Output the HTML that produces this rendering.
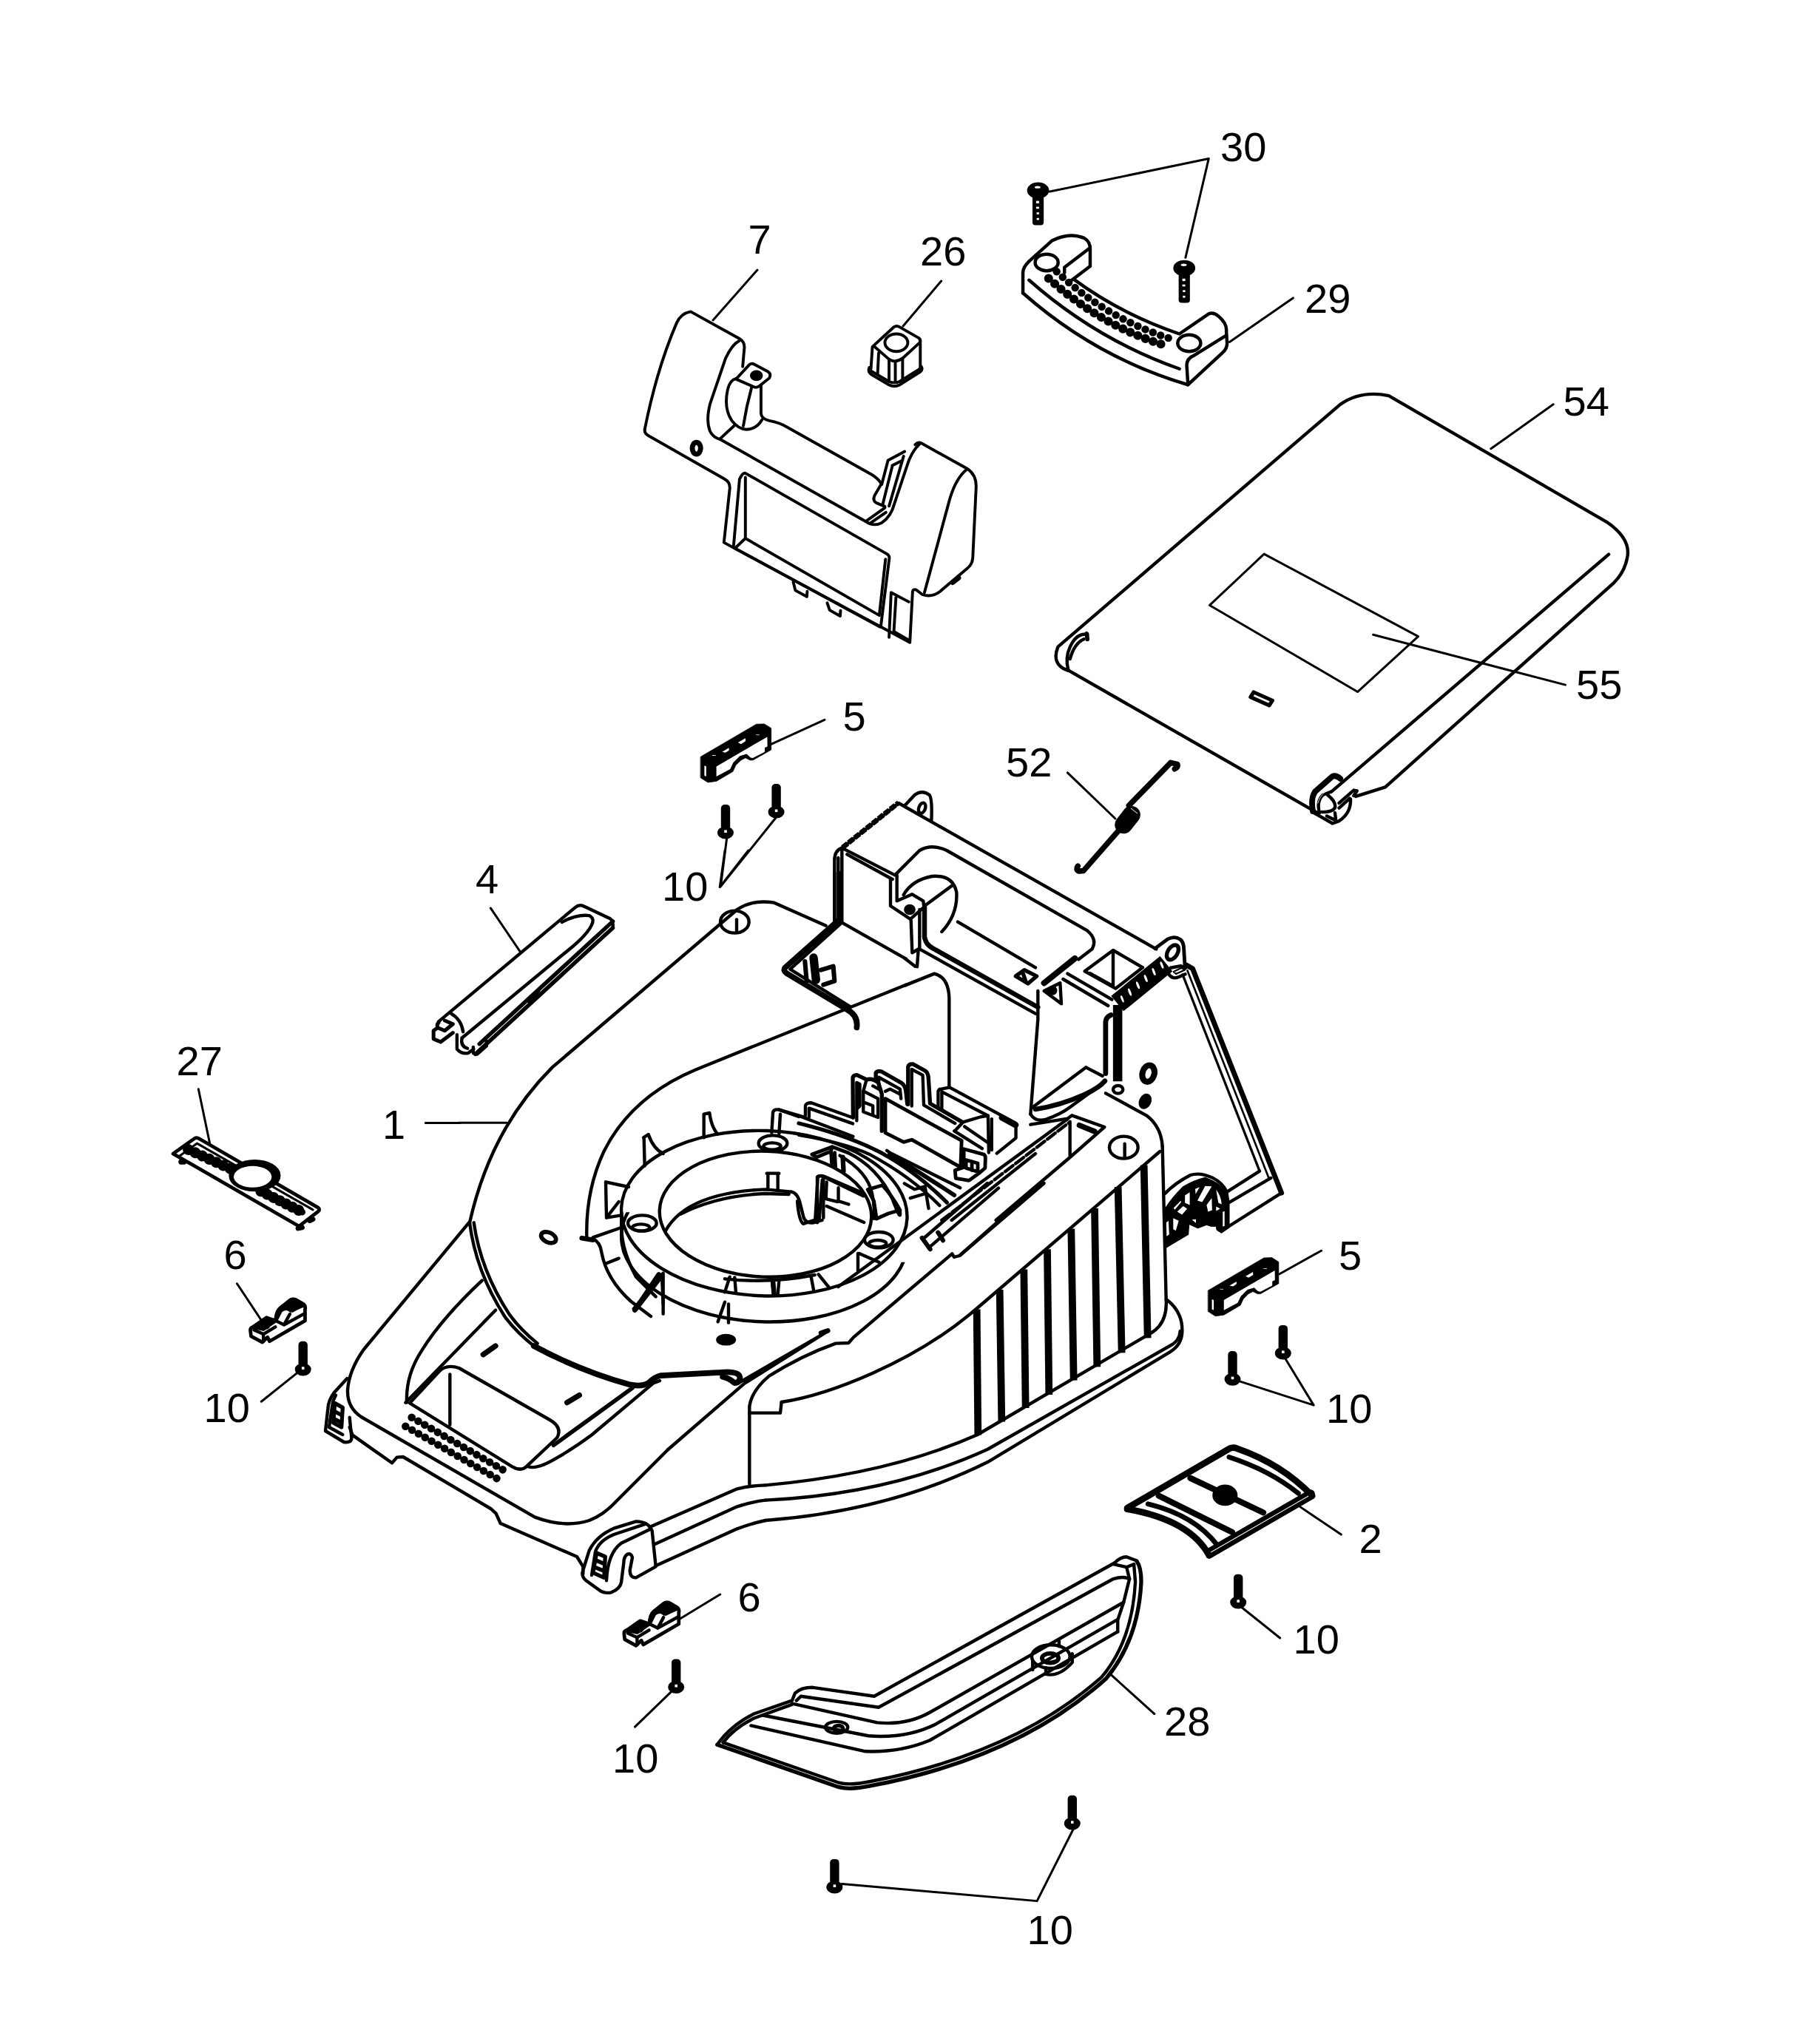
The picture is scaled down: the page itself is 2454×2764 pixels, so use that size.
<!DOCTYPE html>
<html><head><meta charset="utf-8"><style>
html,body{margin:0;padding:0;background:#fff}
svg{display:block}
text{font-family:"Liberation Sans",sans-serif;font-size:56px;fill:#000;stroke:none}
.k{fill:#000}
.w{fill:#fff}
.t{stroke-width:3px;vector-effect:non-scaling-stroke}
</style></head><body>
<svg width="2454" height="2764" viewBox="0 0 2454 2764">
<rect width="2454" height="2764" fill="#fff"/>
<g fill="none" stroke="#000" stroke-width="4.4" stroke-linecap="round" stroke-linejoin="round">
<!-- p01_lip.svg -->
<g transform="translate(700,1820) scale(0.16694)" stroke-width="26.35">
<path d="M130,0 Q500,200 900,312 Q1000,335 1060,300 Q1110,250 1160,240 L1640,215 Q1790,200 1800,255 Q1800,300 1755,300 Q1720,265 1660,250" stroke-width="46.36"/>
<path d="M290,805 L930,340" stroke-width="32.94"/>
<path d="M80,975 Q150,1010 330,900 Q480,810 600,720 L1100,300 L1150,282"/>
</g>
<!-- p01_t1.svg -->
<defs><clipPath id="cT1"><rect x="0" y="0" width="1815" height="1800"/></clipPath>
<clipPath id="cHole"><ellipse cx="1245" cy="1385" rx="430" ry="255" transform="rotate(2 1245 1385)"/></clipPath></defs>
<g transform="translate(620,1180) scale(0.33333)" stroke-width="13.18">
<!-- hood left outer edge -->
<path d="M1130,150 Q1190,108 1280,122 L1490,215"/>
<path d="M1130,150 L380,790 Q130,1040 45,1420"/>
<path class="t" stroke-width="7.32" d="M0,1015 L195,1015"/>
<!-- hood inner panel line -->
<path d="M1815,455 L960,800 Q700,910 590,1130 Q515,1290 520,1480"/>
<path d="M500,1483 L545,1490" stroke-width="19.52"/>
<!-- ring -->
<ellipse cx="1240" cy="1382" rx="580" ry="335" transform="rotate(2 1240 1378)"/>
<ellipse cx="1245" cy="1385" rx="430" ry="255" transform="rotate(2 1245 1385)"/>
<g clip-path="url(#cHole)">
<path d="M820,1500 Q880,1300 1245,1285 L1350,1295"/>
<path d="M900,1385 Q1050,1310 1245,1302 L1340,1305"/>
</g>
<!-- bosses -->
<ellipse cx="1275" cy="1098" rx="58" ry="32"/><ellipse cx="1272" cy="1110" rx="35" ry="14"/>
<ellipse cx="745" cy="1422" rx="58" ry="32"/><ellipse cx="740" cy="1440" rx="35" ry="14"/>
<ellipse cx="1705" cy="1490" rx="58" ry="32"/><ellipse cx="1700" cy="1505" rx="35" ry="14"/>
<!-- small holes -->
<ellipse cx="365" cy="1480" rx="32" ry="20" transform="rotate(25 365 1480)" stroke-width="17.08"/>
<ellipse cx="1120" cy="200" rx="58" ry="45"/><path d="M1128,190 L1128,242"/>
<!-- ribs top -->
<path d="M750,1075 L770,1062 Q790,1120 830,1140 M752,1075 L755,1190"/>
<path d="M995,980 L1018,975 Q1025,1030 1050,1060 M995,980 L995,1075"/>
<path d="M1275,975 L1270,1055 M1305,980 L1300,1060 M1275,972 Q1280,958 1300,962 L1380,990"/>
<!-- left ribs -->
<path d="M597,1255 L690,1275 M597,1255 L600,1400 L650,1335 M600,1400 L660,1390 M545,1480 L660,1440"/>
<path d="M545,1485 Q575,1500 580,1540 Q600,1650 700,1740 L780,1800"/>
<path d="M662,1400 Q650,1510 720,1640 L800,1720 M600,1585 L650,1565"/>
<path d="M830,1625 L830,1790 M830,1625 L710,1770" />
<path d="M820,1640 L715,1775" stroke-width="19.52"/>
<path d="M1100,1640 L1080,1702 M1120,1642 L1125,1705 M1272,1655 L1278,1712 M1300,1655 L1295,1710 M1430,1640 L1440,1692 M1460,1630 L1500,1680" />
<path d="M1275,1655 L1280,1712" stroke-width="19.52"/>
<!-- notch + post -->
<path d="M1255,1222 L1255,1285 M1295,1222 L1295,1285 M1250,1220 L1300,1220"/>
<path d="M1350,1295 Q1375,1300 1385,1340 L1400,1400 Q1410,1425 1440,1420 L1475,1410"/>
<path d="M1455,1235 L1455,1420 M1480,1240 L1480,1400 M1455,1235 Q1470,1225 1490,1235 L1640,1300"/>
<!-- housing lower-left bracket -->
<path d="M1545,190 L1325,385 Q1315,397 1330,408 L1575,555 Q1622,580 1615,628" stroke-width="23.18"/>
<path d="M1552,205 L1345,392 L1590,545"/>
<path d="M1525,0 L1525,195 M1550,0 L1550,200 L1815,350"/>
<path d="M1405,360 L1412,440 M1470,395 L1520,380 L1525,440 L1480,455" stroke-width="18.3"/>
<path d="M1440,345 L1450,435" stroke-width="34.16"/>
<!-- upper right clutter -->
</g>
<!-- p01_t2b.svg -->
<defs><clipPath id="cLow"><path d="M-100,238 L1200,238 L1200,440 L1815,440 L1815,1200 L-100,1200 Z"/></clipPath></defs>
<g transform="translate(800,1560) scale(0.33333)" stroke-width="13.18">
<!-- ring wall lower ellipse -->
<g clip-path="url(#cLow)"><ellipse cx="700" cy="350" rx="580" ry="332" transform="rotate(2 700 350)"/></g>
<path d="M121,240 L121,350"/>
<!-- hole rim second arc -->
<path d="M540,508 Q720,528 905,492"/>
<path d="M285,495 L290,612 M540,602 L512,682 M555,610 L555,686 M1080,405 L1080,475 M1085,405 L1165,440"/>
<path d="M272,490 L182,625" stroke-width="19.52"/>
<ellipse class="k" cx="545" cy="755" rx="34" ry="17"/>
<!-- hood front edge + hook -->
<!-- diagonals -->
<path d="M310,1200 L620,932 L955,722 M605,925 L945,728"/>
<path d="M930,728 L958,718" stroke-width="19.52"/>
<path d="M640,1340 L640,1025 Q650,960 720,902 Q850,820 990,770 L1042,768 L1062,745 L1462,406 L1470,420 L1492,414 L1815,128"/>
<path d="M640,1052 L765,1052 L770,1008"/>
</g>
<!-- p01_t3.svg -->
<g transform="translate(430,1700) scale(0.33333)" stroke-width="13.18">
<!-- outer left silhouette + top front edge -->
<path d="M612,-140 L185,375 Q125,460 120,540 Q118,610 175,648 L880,1055 Q1000,1100 1100,1068 Q1160,1045 1210,990 L1420,780"/>
<!-- skirt bottom -->
<path d="M128,690 L140,722 L300,835 L320,812 L345,810 L700,1020 L722,1040 L740,1080 L1050,1215 L1075,1255 L1075,1285"/>
<!-- left wheel bracket -->
<path d="M118,492 L65,550 Q42,580 40,615 L30,705 L105,750 Q138,755 136,730 L128,650"/>
<path d="M72,560 Q60,580 58,600 L45,690 L100,720"/>
<path d="M68,592 L100,610 L95,690 L62,672 Z M66,625 L98,642 M64,655 L96,672" stroke-width="15.86"/>
<!-- recess -->
<path d="M360,590 Q355,480 420,380 Q500,250 665,95"/>
<path d="M355,590 L720,215"/>
<path d="M372,592 L490,465 Q520,432 572,450 L940,660 Q992,690 970,732 L850,845 Q825,872 788,850 Z"/>
<path d="M535,475 L535,680"/>
<path d="M670,395 L720,360 M1010,590 L1060,560" stroke-width="21.96"/>
<!-- hood lip -->
<path d="M615,-140 Q640,60 760,245 Q810,310 878,362"/>
<path d="M632,-140 Q660,55 776,232 Q822,295 890,350"/>
<!-- dots -->
<path d="M380,650 L775,877" stroke-width="31.72" stroke-dasharray="0 30.4"/>
<path d="M355,686 L750,912" stroke-width="31.72" stroke-dasharray="0 30.4"/>
<!-- front right wheel bracket -->
<path d="M1075,1270 L1100,1190 Q1130,1130 1200,1100 L1290,1072 Q1340,1072 1355,1110 L1370,1255 L1290,1300 Q1265,1302 1265,1270 L1275,1218 Q1270,1200 1255,1205 Q1240,1215 1240,1240 L1230,1320 Q1225,1345 1190,1360 Q1160,1366 1140,1350 L1085,1310 Q1066,1292 1075,1270"/>
<path d="M1110,1290 L1125,1195 Q1140,1150 1200,1125 L1330,1082 M1170,1312 Q1175,1200 1230,1160 L1345,1105"/>
<path d="M1130,1200 L1165,1215 L1160,1300 L1115,1280 Z M1128,1230 L1163,1245 M1122,1258 L1160,1273" stroke-width="15.86"/>
<path d="M1345,1095 L1700,940 Q1760,926 1815,925 M1365,1165 L1700,1012 Q1760,992 1815,986 M1370,1252 L1700,1102 Q1760,1080 1815,1068"/>
</g>
<!-- p01_t4.svg -->
<g transform="translate(1035,1600) scale(0.33333)" stroke-width="13.18">
<path d="M65,888 C250,860 600,730 855,510 L1600,-129"/>
<g stroke-width="29.28" stroke-linecap="butt">
<path d="M857,512 L862,1022 M950,432 L958,968 M1048,350 L1055,912 M1143,268 L1150,858 M1240,185 L1250,800 M1335,102 L1345,745 M1430,15 L1445,688 M1535,-73 L1550,628"/>
</g>
<path d="M1610,-150 L1625,470 Q1692,520 1690,600 Q1690,655 1640,685 L900,1132 Q500,1330 0,1368"/>
<path d="M1625,470 Q1632,570 1560,610 L860,1020 Q500,1180 0,1225"/>
<path d="M1682,600 Q1680,640 1640,660 L900,1080 Q500,1262 0,1286"/>
<path d="M640,225 L900,0 M662,262 L945,20" />
<path d="M635,222 L668,268 M700,200 L720,232" stroke-width="18.3"/>
<path d="M790,292 L1130,0"/>
</g>
<!-- p01_t5.svg -->
<g transform="translate(1100,1050) scale(0.33333)" stroke-width="13.18">
<!-- extend hood inner line and housing bottom -->
<path d="M370,848 L490,800 Q548,815 550,900 L550,1260 M370,738 L412,770"/>
<!-- left block -->
<path d="M118,288 L345,106" stroke-width="20.74" stroke-dasharray="26 5" stroke-linecap="butt"/>
<path d="M85,590 L85,340 Q85,300 115,290 L345,108 L480,185 L1390,700"/>
<path d="M100,330 L100,590 M136,316 L320,417 M115,300 L115,590 M115,290 L330,400 L430,300 Q480,272 540,300 L1110,625 Q1152,660 1130,700 L1075,742"/>
<path d="M370,118 L410,75 Q440,52 470,75 Q482,90 478,182"/>
<ellipse cx="440" cy="128" rx="13" ry="22" transform="rotate(20 440 128)"/>
<path d="M312,415 L312,525 L395,580 L400,715 L425,700 L420,772 M338,400 L338,505 L400,478 L445,505 L448,530 L400,572"/>
<ellipse class="k" cx="390" cy="540" rx="17" ry="15"/>
<path d="M430,540 L430,700 L900,962"/><path d="M450,530 L450,650 Q455,682 482,696 L910,936" stroke-width="19.52"/>
<path d="M365,480 Q400,420 480,405 Q565,398 580,470 Q585,560 520,630 M450,525 L565,440"/>
<path d="M585,590 L900,775"/>
<path d="M820,810 L855,785 L905,810 L870,840 Z M850,800 L862,835" stroke-width="15.86"/>
<path d="M935,838 L1060,738" stroke-width="24.4"/>
<path d="M935,870 L1000,838 L1005,922 Z"/><ellipse class="k" cx="968" cy="868" rx="14" ry="13"/>
<path d="M910,870 L910,985 L880,1370 M1012,822 L1195,930 M1030,800 L1210,905"/>
<!-- right tube -->
<path d="M1100,790 L1215,705 L1335,775 L1225,860 Z M1215,710 L1215,850 M1120,798 L1215,850"/>
<!-- right post -->
<!-- spring coils -->
<!-- right ear -->
<!-- lever rod -->
<!-- lower housing -->
<path d="M1105,1180 L885,1345 M1105,1180 L1172,1215"/>
<path d="M900,1350 Q1000,1335 1100,1290 Q1160,1262 1182,1235" stroke-width="19.52"/>
<path d="M880,1370 Q900,1402 940,1392 Q1000,1372 1040,1342 L1180,1240"/>
<ellipse cx="1358" cy="1205" rx="24" ry="34" transform="rotate(15 1358 1205)" stroke-width="24.4"/>
<ellipse class="k" cx="1345" cy="1318" rx="18" ry="26" transform="rotate(25 1345 1318)"/>
<ellipse cx="1235" cy="1270" rx="20" ry="16"/>
<!-- rear right corner -->
<path d="M1185,1285 L1350,1375 Q1410,1420 1415,1500"/>
<ellipse cx="1258" cy="1505" rx="58" ry="45"/><path d="M1262,1490 L1262,1548"/>
<path d="M880,1412 L1030,1388 L1048,1375 L1180,1422 L1040,1545 L740,1800 M1040,1400 L1040,1540"/>
<path d="M1078,1415 L1140,1440" stroke-width="21.96"/>
<path d="M100,2070 L1030,1390 M560,1800 L900,1530"/>
<path d="M520,1800 L1035,1405" stroke-dasharray="40 14"/>
<!-- lower-left clutter -->
</g>
<!-- p01_t6.svg -->
<g transform="translate(1500,1250) scale(0.269)" stroke-width="16.35">
<path d="M388,205 L418,222 L865,1350" stroke-width="25.62"/><path d="M865,1350 L565,1540 Q545,1542 545,1520"/>
<path d="M392,232 L800,1272 L812,1275" stroke-width="9.76"/>
<path d="M368,252 L755,1240" stroke-width="12.2"/><path d="M755,1240 L590,1345 M812,1275 L595,1402"/>

<!-- wheel -->
</g>
<g transform="translate(1560,1570) scale(0.099176)" stroke-width="43.92">
<path d="M150,445 Q290,300 500,192 Q630,150 800,228 Q940,300 990,410 L1012,560 L1012,900 L920,962"/>
<path d="M160,640 Q250,500 400,350 Q550,262 700,225 Q880,290 980,400 L1010,560 L1010,900 L920,960 L860,940 L850,890 L780,890 L720,870 L600,915 L480,860 L470,1000 L170,1180 L150,1000 Z" fill="#000" stroke-width="12.2"/>
<g fill="#fff" stroke="none">
<path d="M425,470 L490,425 L490,600 L425,570 Z M565,380 L625,355 L570,450 Z M700,340 L790,345 L660,560 L595,540 Z M850,390 Q920,480 925,590 L880,570 Z M720,600 L790,505 L795,670 L740,690 Z M850,620 L905,650 L850,680 Z M320,690 L400,615 L455,650 L385,730 Z M270,640 L370,540 L372,562 L288,662 Z M265,780 L340,815 L300,950 L265,930 Z M170,840 L200,815 L210,1000 L175,1025 Z M520,800 L575,795 L575,845 Z M940,690 L965,685 L965,885 L940,895 Z"/>
</g>
</g>
<!-- p01_t7.svg -->
<g transform="translate(1080,1400) scale(0.19835)" stroke-width="21.96">
<!-- panel box -->
<path d="M950,490 L950,382 Q955,365 978,365 L1028,355 L1480,600 L1480,700 L1350,805 M975,500 L975,385 L1290,548 L1295,800 M1315,570 L1315,782 M1120,592 L1240,556 L1290,547"/>
<path d="M1385,562 L1478,612" stroke-width="41.48"/>
<path d="M1060,652 L1250,772 M1130,622 L1290,732 M1065,650 L1120,592"/>
<!-- tab 3 -->
<path d="M745,470 L745,215 Q750,193 778,196 L862,242 Q882,256 884,292 L895,465 L1115,592" stroke-width="26.84"/>
<path d="M770,482 L770,232 L845,272 L852,476 L1065,600"/>
<!-- tab 2 -->
<path d="M525,310 L525,256 Q535,240 562,246 L702,326 Q726,345 730,382 L740,470" stroke-width="26.84"/>
<path d="M545,332 L545,286 L690,366 L697,432 M590,382 L622,366 L692,402"/>
<!-- tab 1 -->
<path d="M370,560 L368,292 Q370,270 396,270 L462,302 Q500,290 542,322 L566,400 L566,652" stroke-width="26.84"/>
<path d="M395,582 L395,322 L416,332 L416,482 L396,502 M440,380 L540,432 L540,560 L440,522 Z M440,455 L505,480 L505,545 M462,302 L440,380 M505,345 L560,375"/>
<!-- big wall -->
<path d="M590,432 L1110,718 L1103,905 M590,432 L590,665 L715,728 L770,712 L1105,900" stroke-width="24.4"/>
<!-- left low wall -->
<path d="M45,545 L45,480 Q50,460 85,460 L370,562 M70,557 L70,497 L368,602 M0,548 L370,690 M-134,507 L45,560"/>
<!-- small box right -->
<path d="M1125,775 L1262,812 Q1275,822 1272,842 L1270,905 L1235,935 L1160,990 L1070,975 L1065,920 L1125,900 Z M1140,850 L1220,872 L1220,930 L1140,905 Z M1180,860 L1180,920" stroke-width="24.4"/>
<!-- arcs -->
<path d="M0,600 Q330,680 560,800 Q800,930 1010,1140" stroke-width="26.84"/>
<path d="M0,680 Q300,730 480,810 Q760,960 960,1160"/>
<path d="M620,812 Q850,950 1060,1090" stroke-width="29.28"/>
<path d="M600,785 L620,800 L1100,1040 M720,1010 L790,1050 L860,1030 L885,1180 M760,1110 L860,1080"/>
<!-- ring pieces -->
<path d="M90,812 L228,760 L335,800 M90,812 L120,832 L220,790 L228,760 M220,790 L225,882 M245,800 L250,900" stroke-width="24.4"/>
<path d="M300,830 L305,925" stroke-width="31.72"/>
<path d="M335,800 Q540,900 640,1120 Q700,1280 690,1200 M280,820 Q470,930 500,1080 Q520,1180 512,1250"/>
<path d="M470,1052 L570,1022 Q640,1100 690,1192 L610,1215 L530,1250 L512,1130 Z" stroke-width="24.4"/>
<path d="M130,962 L112,1258 L30,1285 Q0,1262 -10,1130 M130,962 Q142,955 165,962 L440,1095 M160,985 L140,1250 M190,1165 L445,1275 M270,1040 L270,1130 L340,1152 M190,1000 L185,1115 L265,1135"/>
</g>
<!-- p01_t8.svg -->
<g transform="translate(1440,1240) scale(0.13223)" stroke-width="32.94">
<path d="M535,885 L1035,478" stroke-width="201.3" stroke-linecap="butt"/>
<g fill="#fff" stroke="none">
<ellipse cx="585" cy="838" rx="11" ry="38" transform="rotate(-22 585 838)"/>
<ellipse cx="662" cy="768" rx="12" ry="40" transform="rotate(-22 662 768)"/>
<ellipse cx="745" cy="698" rx="12" ry="40" transform="rotate(-22 745 698)"/>
<ellipse cx="826" cy="628" rx="12" ry="40" transform="rotate(-22 826 628)"/>
<ellipse cx="908" cy="560" rx="12" ry="40" transform="rotate(-22 908 560)"/>
<ellipse cx="990" cy="492" rx="12" ry="38" transform="rotate(-22 990 492)"/>
</g>
<path d="M538,900 L538,1680" stroke-width="95.16" stroke-linecap="butt"/>
<path d="M415,1600 L415,1070 Q420,1022 470,1002" stroke-width="51.24"/>
<path d="M920,322 L1050,226 Q1120,190 1180,230 Q1215,262 1215,330 L1225,490" stroke-width="36.6"/>
<ellipse cx="1100" cy="362" rx="50" ry="82" transform="rotate(32 1100 362)" stroke-width="41.48"/>
<path d="M1080,520 L1185,500 L1232,522 M1060,585 Q1100,640 1160,615 L1230,585"/>
<path d="M1110,560 L1190,520 L1225,540 L1135,582 Z" fill="#fff" stroke-width="17.08"/>
</g>
<!-- p02.svg -->
<g transform="translate(1480,1750) scale(0.27548)" stroke-width="15.86">
<path d="M160,1050 L655,762 Q675,748 700,758 Q920,835 1068,990 L562,1283 Q470,1110 160,1055 Z" stroke-width="31.72"/>
<path d="M562,1268 L1060,980" stroke-width="41.48"/>
<path d="M262,1030 Q490,1085 602,1232 M660,800 Q860,865 1000,978" stroke-width="24.4"/>
<path d="M315,990 L675,1168 M470,903 L828,1072" stroke-width="29.28"/>
<ellipse cx="640" cy="987" rx="54" ry="44" fill="#000"/>
<path d="M572,1266 L1048,992" stroke="#fff" stroke-width="3.66"/>
<path class="t" stroke-width="9.15" d="M1075,545 L712,428 M1075,545 L935,315 M910,1688 L725,1540 M1210,1180 L1010,1045"/>
</g>
<use href="#s10" x="1734.8" y="1791.9"/>
<use href="#s10" x="1666.5" y="1827.1"/>
<use href="#s10" x="1674.2" y="2128.8"/>
<!-- p04.svg -->
<g transform="translate(560,1150) scale(0.27548)" stroke-width="15.86">
<path d="M120,840 L790,280 Q812,262 835,275 L962,335 Q978,345 975,375"/>
<path d="M975,348 L320,950 M975,380 L300,1000" stroke-width="19.52"/>
<path d="M725,352 Q800,312 860,320 Q888,335 870,368 Q850,410 780,470 L235,920"/>
<path d="M180,800 Q232,830 240,890"/>
<path d="M120,845 Q110,852 115,870 L95,885 L95,925 L130,940 L190,895 M150,835 L190,852 L150,885 L120,872" stroke-width="18.3"/>
<path d="M210,905 L210,975 Q230,1000 265,995 L292,975 M290,965 L290,995 L310,1000 L355,960 L355,935 M235,920 Q225,960 262,972"/>
<path d="M570,740 L612,705" stroke-width="29.28"/>
<path class="t" stroke-width="9.15" d="M375,283 L520,497 M1500,180 L1525,0 M1500,180 L1640,0"/>
</g>
<!-- p05top.svg -->
<g id="p5" transform="translate(930,960) scale(0.07716)" stroke-width="9.76">
<path d="M225,820 L1200,250 L1340,245 L1460,320 L1460,700 L1140,880 L1090,880 L1010,840 L930,880 L840,970 L790,1080 L500,1250 L350,1270 L225,1190 Z" fill="#000"/>
<path d="M500,990 L1392,472 L1395,640 L1348,662 L1348,735 L1140,842 L1100,835 L1030,772 L912,808 L795,925 L742,1038 L500,1168 Z" fill="#fff" stroke="none"/>
<g fill="#fff" stroke="none"><path d="M600,735 L720,665 L722,708 L660,750 Z M880,570 L1010,495 L1012,548 L932,598 Z M430,792 L490,795 L490,805 L430,802 Z M1195,432 L1255,434 L1255,444 L1195,442 Z M290,975 L322,988 L322,1165 L290,1150 Z"/></g>
</g>
<use href="#p5" transform="translate(686.2,721.7)"/>
<path class="t" d="M1114.9,973.4 L1042.6,1006.4"/>
<defs><g id="s10" stroke="none"><rect x="-6.2" y="0" width="12.4" height="35" rx="5" fill="#000"/><ellipse cx="0" cy="38" rx="11" ry="8.6" fill="#000"/><rect x="-1.8" y="34.5" width="3.6" height="3.6" fill="#fff"/></g></defs>
<use href="#s10" x="981" y="1088"/>
<use href="#s10" x="1049.6" y="1060"/>
<path class="t" d="M974.4,1198.6 L982.6,1134 M974.4,1198.6 L1049.6,1105"/>
<!-- spring 52 -->
<g transform="translate(1440,1010) scale(0.099176)" stroke-width="75.64" stroke-linejoin="round" stroke-linecap="round">
<path d="M1495,300 Q1545,275 1530,235 L1440,215 L870,800"/>
<path d="M745,1125 L250,1690 L190,1695 Q140,1670 175,1625"/>
<path d="M800,1060 L905,925" stroke-width="244"/>
<path d="M900,840 L985,905" stroke="#fff" stroke-width="9.76"/>
</g>
<path class="t" d="M1443.4,1044.9 L1508,1107"/>
<!-- p07.svg -->
<g transform="translate(860,400) scale(0.28154)" stroke-width="13.91">
<path d="M42,640 Q100,350 195,130 Q215,85 262,76 L500,208 Q522,222 520,250 L512,340"/>
<path d="M42,640 Q38,660 60,672 L425,880 Q452,895 450,925 L422,1185 L1315,1665 L1328,1420 Q1330,1408 1345,1412 L1375,1435 Q1420,1450 1460,1420 L1590,1310 Q1615,1290 1617,1260 L1633,920 Q1635,860 1590,830 L1370,708 Q1355,700 1340,715"/>
<path d="M497,215 Q460,235 430,300 L355,520 Q335,600 355,650 Q370,680 405,690 L1105,1085 Q1140,1110 1180,1090 Q1225,1060 1240,1000 L1300,820 Q1320,750 1365,708"/>
<path d="M405,685 L470,625"/>
<path d="M480,400 L545,330 Q555,322 570,330 L635,365 Q650,375 640,395 L590,435 Q575,445 560,435 Z"/>
<ellipse class="k" cx="578" cy="383" rx="24" ry="19"/>
<path d="M480,397 Q450,405 440,450 Q420,540 460,600 Q490,640 530,642 Q580,640 605,595"/>
<path d="M555,440 Q530,530 515,625"/>
<path d="M600,430 L600,565 Q602,590 640,600 Q690,610 720,628 L1130,858 Q1160,875 1180,905"/>
<path d="M1180,905 L1210,790 L1290,748 M1230,815 L1280,790 M1180,900 L1145,960 Q1135,985 1155,995 L1195,1012 M1230,820 L1185,1000 M1285,770 L1215,1010 M1195,1018 L1105,1082 M1200,1040 L1125,1092"/>
<path d="M500,875 Q512,850 525,852 L1205,1240 Q1218,1248 1216,1262 L1175,1590"/>
<path d="M497,880 L468,1205 M525,872 L525,1165 L478,1210 M525,1165 L1168,1535 L1198,1265 M470,1210 L1170,1590"/>
<path d="M755,1375 L765,1415 L820,1445 L822,1420 M918,1475 L930,1510 L980,1538 L982,1512"/>
<path d="M1215,1640 L1225,1425 L1310,1470 M1248,1450 L1238,1612 L1312,1655"/>
<path d="M1590,832 Q1530,880 1500,1000 L1385,1425"/>
<path d="M1520,1378 L1550,1355" stroke-width="21.96"/>
<ellipse cx="290" cy="732" rx="20" ry="28" stroke-width="24.4"/>
<!-- 26 -->
<path d="M1140,240 L1238,150 Q1250,142 1262,148 L1358,203 Q1370,212 1362,225 L1280,300 Q1245,325 1215,305 Z"/>
<ellipse cx="1250" cy="225" rx="55" ry="42"/>
<path d="M1135,245 L1128,350 M1165,275 L1160,375 M1215,305 L1215,405 M1245,318 L1245,410 M1280,300 L1280,402 M1365,215 L1365,345"/>
<path d="M1120,345 Q1112,365 1130,378 L1215,428 Q1240,440 1265,428 L1365,365 Q1378,355 1370,340"/>
<path d="M1130,362 L1215,412 Q1240,422 1265,412 L1365,350" />
</g>
<path class="t" d="M1024,365 L964,433 M1272.6,380 L1221,441"/>
<!-- p27.svg -->
<g transform="translate(200,1390) scale(0.27881)" stroke-width="15.74">
<path d="M122,610 L228,535 Q238,530 250,538 L826,872 Q836,880 826,890 L733,962 Z" stroke-width="17.08"/>
<path d="M152,622 L238,560 L800,882 M160,655 L160,640 M735,975 L735,960 M792,935 L792,920" stroke-width="10.98"/>
<path d="M160,650 L175,650 M728,972 L748,968 M785,935 L800,928" stroke-width="24.4"/>
<g stroke-linecap="round">
<path d="M196,590 L420,692" stroke-width="53.68" stroke-dasharray="0.1 37"/>
<path d="M548,792 L752,895" stroke-width="53.68" stroke-dasharray="0.1 34"/>
<path d="M200,592 L415,690 M550,795 L748,893" stroke-width="31.72"/>
</g>
<ellipse cx="518" cy="716" rx="118" ry="70" fill="#000"/>
<ellipse cx="508" cy="722" rx="92" ry="52" fill="#fff" stroke="none"/>
<path class="t" stroke-width="8.54" d="M245,297 L300,560"/>
<!-- part 6 left -->
<g id="p6">
<path d="M497,1468 Q495,1455 510,1450 L575,1405 L620,1420 Q620,1380 640,1360 L690,1320 Q705,1312 720,1320 L755,1340 Q766,1350 762,1365 L762,1420 L590,1520 L580,1500 L555,1525 L500,1495 Z" stroke-width="17.08"/>
<path d="M640,1362 Q670,1350 692,1372 L758,1345 M620,1420 L660,1440 L688,1388 M515,1465 L560,1485 L560,1520 M560,1485 L618,1450 M660,1440 L760,1385"/>
<path d="M622,1418 Q620,1380 640,1360 L690,1320 Q705,1312 720,1320 L755,1342 L700,1372 Q670,1352 645,1372 Z" fill="#000"/><path d="M512,1452 L575,1408 L618,1422 L560,1462 Z" fill="#000"/>
<ellipse cx="572" cy="1445" rx="12" ry="9" fill="#000"/>
</g>
<path class="t" stroke-width="8.54" d="M432,1240 L548,1415 M550,1812 L730,1668"/>
</g>
<use href="#p6" transform="translate(505.3,410.1) translate(200,1390) scale(0.27881)" stroke-width="15.74"/>
<use href="#s10" x="409.7" y="1813.8"/>
<use href="#s10" x="914.2" y="2243.4"/>
<!-- p28.svg -->
<g transform="translate(940,2020) scale(0.3967)" stroke-width="11.1">
<path d="M75,855 L490,1000 Q530,1010 600,995 Q1100,900 1400,630 Q1510,500 1520,300 Q1520,250 1505,230" stroke-width="13.42"/>
<path d="M95,848 L490,985 Q530,995 600,980 Q1090,885 1385,625 Q1490,500 1500,300 L1495,240"/>
<path d="M75,855 Q120,790 200,750 L330,705 L340,680 Q360,660 400,660 L610,690 L1430,235 Q1450,215 1470,215 L1505,228"/>
<path d="M345,705 L360,690 L625,728 L1425,290 Q1460,280 1480,290 L1460,370 L1440,430 L1440,470"/>
<path d="M330,715 L620,780 Q720,790 800,745 L1460,370"/>
<path d="M230,755 L590,825 Q720,835 820,785 L1440,428"/>
<path d="M190,790 L580,878 Q700,882 800,840 L1440,470"/>
<path d="M95,848 Q130,800 200,765 L330,718 M1425,240 L1470,250 L1495,240 M1470,250 L1480,290"/>
<ellipse cx="1212" cy="555" rx="65" ry="40"/><ellipse cx="1210" cy="560" rx="28" ry="16" stroke-width="14.64"/>
<path d="M1150,570 L1150,600 M1195,592 L1195,615 Q1240,625 1285,575 L1285,545 M1240,520 L1240,500"/>
<ellipse cx="482" cy="796" rx="38" ry="20"/><ellipse cx="488" cy="800" rx="16" ry="10" stroke-width="13.42"/>
<path class="t" stroke-width="6.71" d="M1565,750 L1415,615 M85,343 L-55,428 M1165,1388 L500,1330 M1165,1388 L1290,1140"/>
</g>
<use href="#s10" x="1449.8" y="2427.8"/>
<use href="#s10" x="1128.4" y="2513.9"/>
<!-- p29.svg -->
<g transform="translate(1350,150) scale(0.33058)" stroke-width="13.42">
<path d="M100,745 L100,660 Q100,640 125,615 L220,530 Q290,495 350,520 Q378,535 375,570 L375,635 L300,692"/>
<path d="M372,562 L270,640 L270,662"/>
<path d="M310,690 Q500,830 740,912 L860,830 Q880,822 900,840 Q935,870 932,900 L935,950 Q935,975 915,990 L775,1120 L770,1040 Q770,1012 800,1000 L925,922"/>
<path d="M100,745 Q400,1010 775,1120"/>
<path d="M125,692 Q400,935 740,1055"/>
<ellipse cx="197" cy="620" rx="47" ry="34"/>
<ellipse cx="780" cy="950" rx="47" ry="34"/>
<path d="M205,685 Q420,880 690,962" stroke-width="36.6" stroke-dasharray="0 33.5"/>
<path d="M238,657 Q440,850 720,937" stroke-width="31.72" stroke-dasharray="0 33.5"/>
<!-- screws 30 -->
<g class="k" stroke="none">
<ellipse cx="162" cy="325" rx="45" ry="33"/><rect x="139" y="345" width="46" height="122" rx="12"/>
<ellipse cx="760" cy="643" rx="45" ry="33"/><rect x="737" y="663" width="46" height="122" rx="12"/>
</g>
<g class="w" stroke="none">
<ellipse cx="160" cy="312" rx="12" ry="5"/><ellipse cx="758" cy="630" rx="12" ry="5"/>
<rect x="154" y="368" width="12" height="10"/><rect x="154" y="392" width="12" height="8"/><rect x="156" y="415" width="10" height="8"/><rect x="156" y="438" width="10" height="8"/>
<rect x="752" y="686" width="12" height="10"/><rect x="752" y="710" width="12" height="8"/><rect x="754" y="733" width="10" height="8"/><rect x="754" y="756" width="10" height="8"/>
</g>
<path class="t" stroke-width="7.32" d="M210,330 L860,195 L765,600 M1205,765 L945,945"/>
</g>
<!-- p54.svg -->
<g transform="translate(1400,500) scale(0.46832)" stroke-width="9.394">
<path d="M92,868 Q45,850 65,800 L880,100 Q940,58 1020,75 L1650,440 Q1722,490 1708,545 Q1700,585 1670,615 L1010,1205 L925,1232"/>
<path d="M90,865 L815,1280"/>
<path d="M150,765 Q120,758 100,800 Q85,832 95,868 M140,778 Q112,790 100,835" />
<path d="M148,762 L150,778" stroke-width="12.2"/>
<path d="M1655,533 L855,1218"/>

<path class="t" d="M660,532 L1105,770 L930,930 L503,680 Z"/>
<path d="M630,931 L684,955 L675,969 L621,945 Z" stroke-width="10.98"/>
<path class="t" stroke-width="5.49" d="M1495,100 L1315,228 M975,765 L1530,910"/>
</g>

<g transform="translate(1740,1000) scale(0.11019)" stroke-width="39.89">
<path d="M318,880 Q290,720 345,640 L555,455 Q600,430 655,480" stroke-width="70.76"/>
<path d="M400,900 Q360,760 440,680 L545,640"/>
<path d="M500,680 Q600,760 592,830 Q570,892 430,890 M590,900 L600,990 M490,940 L590,990 M640,780 L820,622 L860,630 L820,690 M640,840 L770,722 M780,730 Q790,900 640,1000 L560,1030 L330,900"/>
<path d="M380,780 Q400,700 470,640" stroke="#fff" stroke-width="7.32"/>
</g>
<!-- z_labels.svg -->
<g stroke="none">
<text x="1650" y="217.8">30</text>
<text x="1764" y="422.7">29</text>
<text x="1011.5" y="343.2">7</text>
<text x="1244" y="358.9">26</text>
<text x="2113.5" y="561.8">54</text>
<text x="2131" y="944.9">55</text>
<text x="1139.5" y="987.9">5</text>
<text x="1360" y="1049.8">52</text>
<text x="895" y="1218">10</text>
<text x="643" y="1207.9">4</text>
<text x="238.5" y="1453.6">27</text>
<text x="517" y="1540">1</text>
<text x="302.5" y="1716.2">6</text>
<text x="275.5" y="1923">10</text>
<text x="1810" y="1716.7">5</text>
<text x="1793" y="1923.6">10</text>
<text x="1837.5" y="2100.4">2</text>
<text x="1748.5" y="2236.2">10</text>
<text x="997.5" y="2178.7">6</text>
<text x="1574" y="2347.3">28</text>
<text x="828" y="2396.6">10</text>
<text x="1388.5" y="2628.9">10</text>
</g>
<path class="t" d="M575.3,1518.5 L622,1518.5 M858.5,2335.1 L908.1,2287.2 M1786.5,1691.2 L1730,1722.7"/>
</g>
</svg>
</body></html>
